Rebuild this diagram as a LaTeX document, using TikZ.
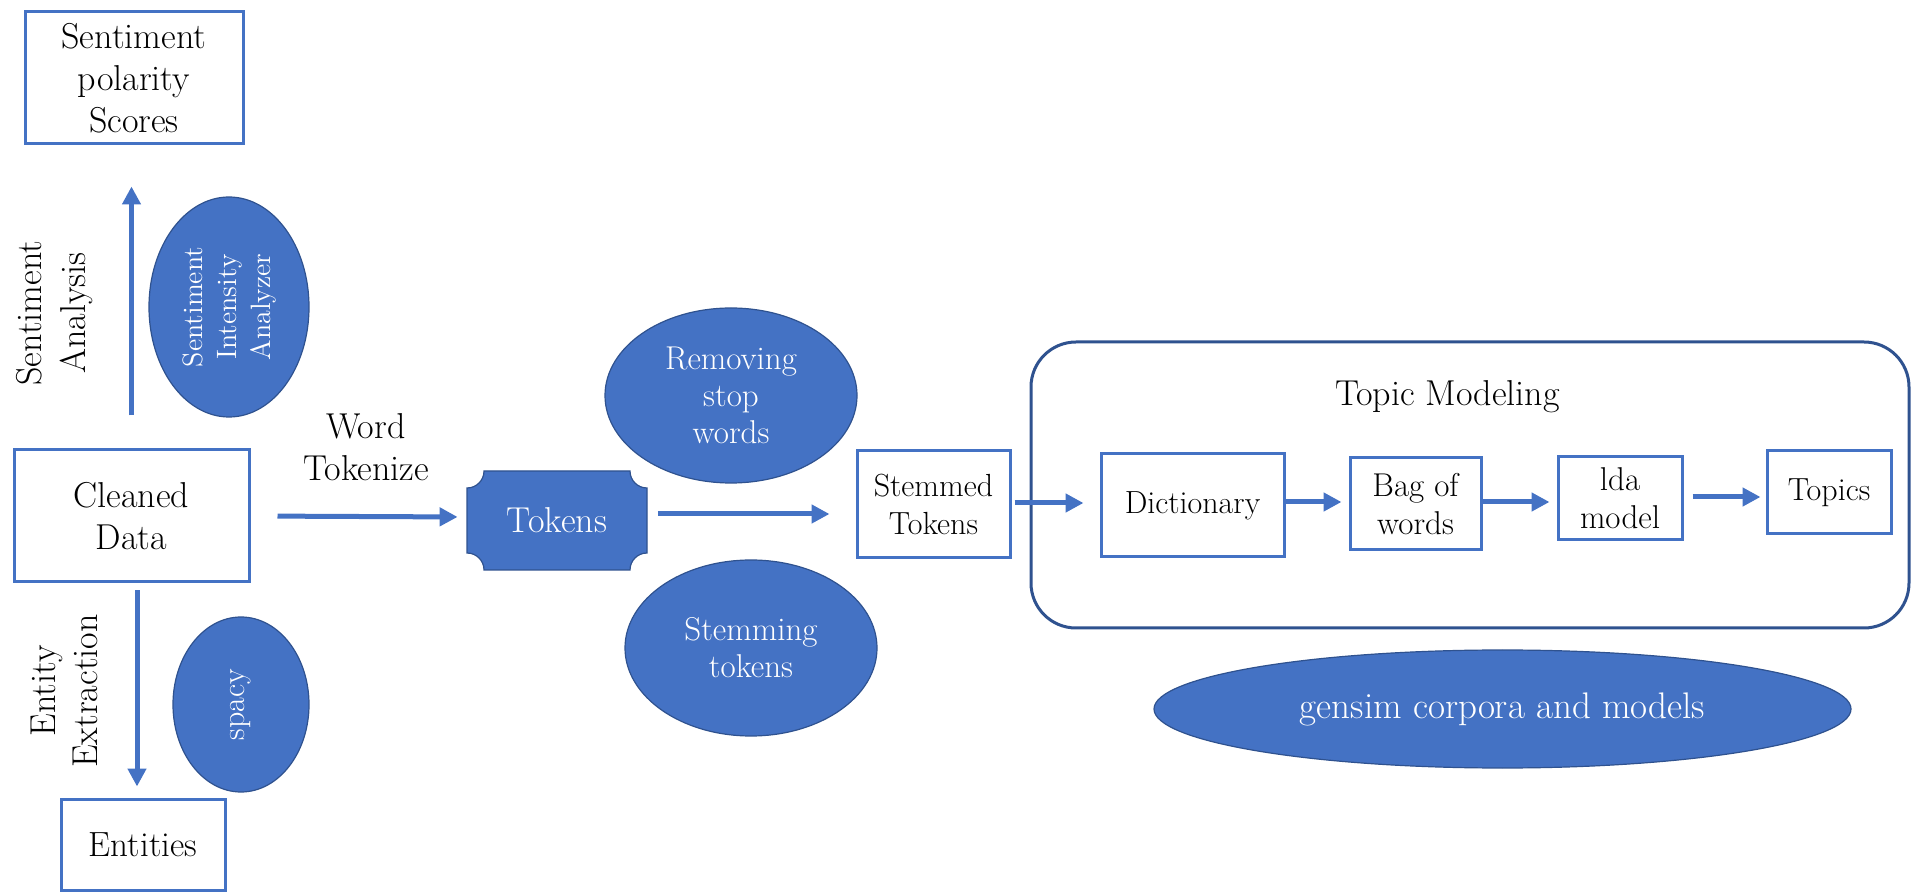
\documentclass[tikz,border=0pt]{standalone}
\usetikzlibrary{arrows.meta,shapes.geometric}
\definecolor{fillblue}{HTML}{4472C4}
\definecolor{darkblue}{HTML}{2F528F}
\begin{document}
\begin{tikzpicture}[x=0.5pt,y=-0.5pt,
  font=\fontsize{18}{21}\selectfont,
  bluebox/.style={draw=fillblue,line width=1.5pt,rectangle,inner sep=0pt,align=center,text=black},
  blueell/.style={ellipse,draw=darkblue,line width=0.6pt,fill=fillblue,text=white,inner sep=0pt,align=center},
  arr/.style={draw=fillblue,line width=2.5pt,-{Triangle[length=9pt,width=9pt]}},
  lbl/.style={align=center,inner sep=0pt,text=black},
  midfont/.style={font=\fontsize{16}{19}\selectfont},
  smallfont/.style={font=\fontsize{14}{17}\selectfont}
]
\useasboundingbox (0,0) rectangle (1912,892);

% left column
\node[bluebox,minimum width=109pt,minimum height=66pt] (pol) at (134,78) {Sentiment\\polarity\\Scores};
\node[bluebox,minimum width=117.5pt,minimum height=66pt] (clean) at (131.5,516) {Cleaned\\Data};
\node[bluebox,minimum width=82pt,minimum height=45.5pt,font=\fontsize{17.5}{21}\selectfont] (ent) at (143,844.5) {Entities};

\node[blueell,rotate=90,minimum width=110pt,minimum height=80pt,smallfont] (sia) at (229,307) {Sentiment\\Intensity\\Analyzer};
\node[blueell,rotate=90,minimum width=87.5pt,minimum height=68pt,midfont] (spacy) at (241,704.5) {spacy};

\node[lbl,rotate=90,font=\fontsize{18}{22}\selectfont] (salbl) at (55,313) {Sentiment\\Analysis};
\node[lbl,rotate=90,font=\fontsize{18}{21}\selectfont] (eelbl) at (64,691) {Entity\\Extraction};

\draw[arr,shorten <=16.5pt,shorten >=20.5pt] (clean.north) -- (clean.north |- pol.south);
\draw[arr,shorten <=3.5pt,shorten >=5.5pt] ([xshift=2.75pt]clean.south) -- ([xshift=2.75pt]clean.south |- ent.north);

% tokens plaque
\fill[fillblue,draw=darkblue,line width=0.6pt]
  (484,471) -- (630,471) arc[start angle=180,end angle=90,radius=17]
  -- (647,553) arc[start angle=270,end angle=180,radius=17]
  -- (484,570) arc[start angle=0,end angle=-90,radius=17]
  -- (467,488) arc[start angle=90,end angle=0,radius=17] -- cycle;
\node[lbl,text=white,minimum width=90pt,minimum height=49.5pt] (tokens) at (557,520.5) {Tokens};

\node[lbl] (wt) at (366,447) {Word\\Tokenize};
\draw[arr,shorten <=13.5pt,shorten >=4.5pt] (clean.east) -- ([yshift=1.75pt]tokens.west);

\node[blueell,minimum width=126pt,minimum height=87.5pt,font=\fontsize{16.5}{18.5}\selectfont] (rem) at (731,395.5) {Removing\\stop\\words};
\node[blueell,minimum width=126pt,minimum height=88pt,font=\fontsize{16.5}{18.5}\selectfont] (stm) at (751,648) {Stemming\\tokens};

\node[bluebox,minimum width=76.5pt,minimum height=53.5pt,font=\fontsize{16}{19}\selectfont] (stemmed) at (933.5,504.5) {Stemmed\\Tokens};
\draw[arr,shorten <=5.25pt,shorten >=13pt] ([yshift=3.25pt]tokens.east) -- ([yshift=3.25pt]tokens.east -| stemmed.west);

% topic modeling
\node[draw=darkblue,line width=1.5pt,rounded corners=22.5pt,rectangle,minimum width=439pt,minimum height=143pt,inner sep=0pt] (tm) at (1470,485) {};
\node[lbl,anchor=base] (tmlbl) at (1447.5,406) {Topic Modeling};

\node[bluebox,minimum width=91.5pt,minimum height=51.5pt,midfont] (dict) at (1192.5,505.5) {Dictionary};
\node[bluebox,minimum width=65.5pt,minimum height=46pt,font=\fontsize{16.5}{19}\selectfont] (bag) at (1415.5,504) {Bag of\\words};
\node[bluebox,minimum width=62pt,minimum height=41.5pt,font=\fontsize{16.5}{19}\selectfont] (lda) at (1620,498.5) {lda\\model};
\node[bluebox,minimum width=62pt,minimum height=41.5pt,midfont] (topics) at (1829,492.5) {Topics};

\draw[arr,shorten <=1.5pt,shorten >=8pt] ([yshift=0.75pt]stemmed.east) -- ([yshift=0.75pt]stemmed.east -| dict.west);
\draw[arr,shorten >=3.5pt] ([yshift=1.75pt]dict.east) -- ([yshift=1.75pt]dict.east -| bag.west);
\draw[arr,shorten >=3.5pt] ([yshift=1pt]bag.east) -- ([yshift=1pt]bag.east -| lda.west);
\draw[arr,shorten <=4.5pt,shorten >=2.5pt] ([yshift=0.75pt]lda.east) -- ([yshift=0.75pt]lda.east -| topics.west);

\node[blueell,minimum width=348.5pt,minimum height=59pt,font=\fontsize{18.5}{21}\selectfont] (gensim) at (1502.5,709) {gensim corpora and models};
\end{tikzpicture}
\end{document}
